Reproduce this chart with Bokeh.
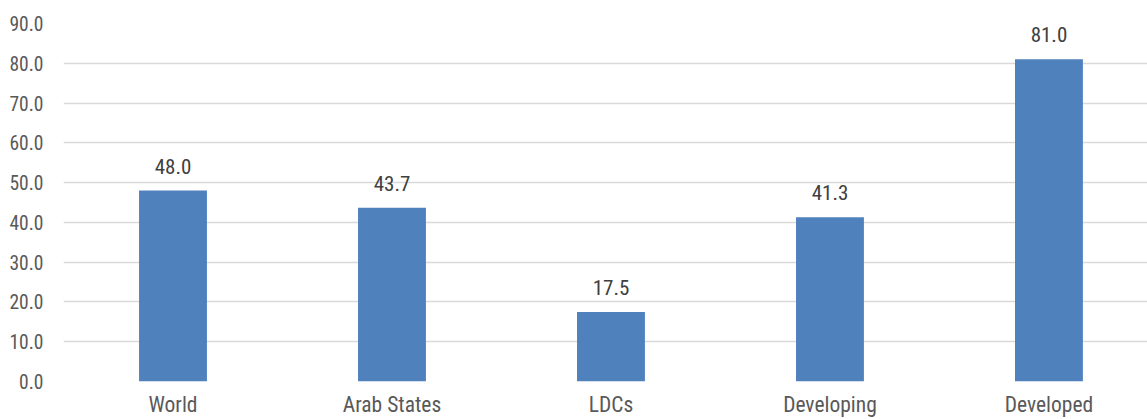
from bokeh.plotting import figure
from bokeh.models import ColumnDataSource, Range1d, FixedTicker, NumeralTickFormatter
from bokeh.core.properties import value
from bokeh.embed import file_html
from bokeh.resources import INLINE

# Categories and values
categories = ["World", "Arab States", "LDCs", "Developing", "Developed"]
values = [48.0, 43.7, 17.5, 41.3, 81.0]
y_ticks = [0, 10, 20, 30, 40, 50, 60, 70, 80, 90]

FONT = "'Roboto Condensed', 'Liberation Sans Narrow', 'Arial Narrow', 'DejaVu Sans Condensed', sans-serif"
BAR = "#4f81bd"

xs = list(range(len(categories)))
src = ColumnDataSource(dict(
    x=xs,
    top=values,
    label=[f"{v:.1f}" for v in values],
))

p = figure(
    width=1147, height=419,
    x_range=Range1d(-0.5, 4.45),
    y_range=Range1d(0, 90),
    output_backend="svg", toolbar_location=None,
    min_border_left=63, min_border_right=0,
    min_border_top=23, min_border_bottom=38,
)
p.outline_line_color = None
p.background_fill_color = "white"
p.border_fill_color = "white"

p.vbar(x="x", top="top", bottom=0, width=0.31, source=src,
       fill_color=BAR, line_color=None)

p.text(x="x", y="top", text="label", source=src,
       text_align="center", text_baseline="middle", y_offset=-24.5,
       text_font=value(FONT), text_font_size="21px", text_color="#404040")

# y axis: labels only, gridlines across
p.yaxis.ticker = FixedTicker(ticks=y_ticks)
p.yaxis.formatter = NumeralTickFormatter(format="0.0")
p.yaxis.axis_line_color = None
p.yaxis.major_tick_line_color = None
p.yaxis.minor_tick_line_color = None
p.yaxis.major_tick_out = 0
p.yaxis.major_tick_in = 0
p.yaxis.major_label_standoff = 20
p.yaxis.major_label_text_font = FONT
p.yaxis.major_label_text_font_size = "19.5px"
p.yaxis.major_label_text_color = "#595959"

p.ygrid.ticker = FixedTicker(ticks=y_ticks)
p.ygrid.grid_line_color = "#d9d9d9"
p.ygrid.grid_line_width = 1.5
p.xgrid.grid_line_color = None

# x axis: category names
p.xaxis.ticker = FixedTicker(ticks=xs)
p.xaxis.major_label_overrides = {i: c for i, c in enumerate(categories)}
p.xaxis.axis_line_color = None
p.xaxis.major_tick_line_color = None
p.xaxis.minor_tick_line_color = None
p.xaxis.major_tick_out = 0
p.xaxis.major_tick_in = 0
p.xaxis.major_label_standoff = 10
p.xaxis.major_label_text_font = FONT
p.xaxis.major_label_text_font_size = "21.5px"
p.xaxis.major_label_text_color = "#595959"

open("out.html", "w").write(file_html(p, INLINE))
